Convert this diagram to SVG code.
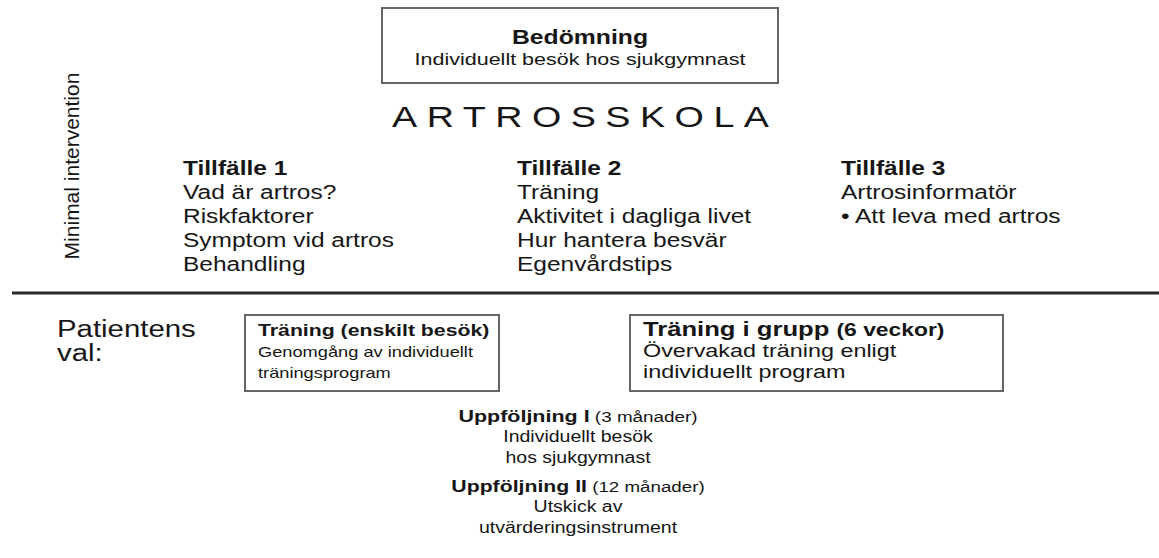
<svg xmlns="http://www.w3.org/2000/svg" width="1159" height="558" viewBox="0 0 1159 558">
<style>
text{font-family:"Liberation Sans",Arial,Helvetica,sans-serif;fill:#161616}
.b{font-weight:bold}
.c{text-anchor:middle}
.box{fill:#ffffff;stroke:#666666;stroke-width:2}
.col{font-size:19.6px}
.bx{font-size:14.6px}
.bx3{font-size:18.7px}
.up{font-size:15.6px}
</style>
<rect width="1159" height="558" fill="#ffffff"/>

<g id="bedomning">
  <rect class="box" x="382" y="8" width="396" height="75"/>
  <g transform="translate(580,0) scale(1.25,1)">
    <text class="b c" y="44" font-size="19.8">Bedömning</text>
    <text class="c" y="65" font-size="17.2">Individuellt besök hos sjukgymnast</text>
  </g>
</g>

<g id="artrosskola">
  <g transform="translate(392,127) scale(1.3,1)">
    <text font-size="29" letter-spacing="7.3">ARTROSSKOLA</text>
  </g>
</g>

<g id="minimal-intervention">
  <text class="c" transform="translate(79,166) rotate(-90)" font-size="21">Minimal intervention</text>
</g>

<g id="tillfalle-1">
  <g transform="translate(183,0) scale(1.25,1)">
    <text class="b col" y="175">Tillfälle 1</text>
    <text class="col" y="199">Vad är artros?</text>
    <text class="col" y="223">Riskfaktorer</text>
    <text class="col" y="247">Symptom vid artros</text>
    <text class="col" y="271">Behandling</text>
  </g>
</g>

<g id="tillfalle-2">
  <g transform="translate(517,0) scale(1.25,1)">
    <text class="b col" y="175">Tillfälle 2</text>
    <text class="col" y="199">Träning</text>
    <text class="col" y="223">Aktivitet i dagliga livet</text>
    <text class="col" y="247">Hur hantera besvär</text>
    <text class="col" y="271">Egenvårdstips</text>
  </g>
</g>

<g id="tillfalle-3">
  <g transform="translate(841,0) scale(1.25,1)">
    <text class="b col" y="175">Tillfälle 3</text>
    <text class="col" y="199">Artrosinformatör</text>
    <text class="col" y="223">• Att leva med artros</text>
  </g>
</g>

<g id="divider">
  <line x1="12" y1="293" x2="1159" y2="293" stroke="#2a2a2a" stroke-width="3"/>
</g>

<g id="patientens-val">
  <g transform="translate(57,0) scale(1.25,1)">
    <text y="337" font-size="23.5">Patientens</text>
    <text y="361" font-size="23.5">val:</text>
  </g>
</g>

<g id="traning-enskilt">
  <rect class="box" x="245" y="315" width="254" height="76"/>
  <g transform="translate(258,0) scale(1.25,1)">
    <text class="b" y="336" font-size="17">Träning (enskilt besök)</text>
    <text class="bx" y="357">Genomgång av individuellt</text>
    <text class="bx" y="378">träningsprogram</text>
  </g>
</g>

<g id="traning-grupp">
  <rect class="box" x="630" y="315" width="373" height="76"/>
  <g transform="translate(643,0) scale(1.25,1)">
    <text class="b" y="336" font-size="20.5">Träning i grupp <tspan font-size="18.3">(6 veckor)</tspan></text>
    <text class="bx3" y="357">Övervakad träning enligt</text>
    <text class="bx3" y="378">individuellt program</text>
  </g>
</g>

<g id="uppfoljning-1">
  <g transform="translate(578,0) scale(1.25,1)">
    <text class="c" y="422"><tspan class="b" font-size="17.2">Uppföljning I</tspan><tspan font-size="15.1"> (3 månader)</tspan></text>
    <text class="c up" y="442">Individuellt besök</text>
    <text class="c up" y="463">hos sjukgymnast</text>
  </g>
</g>

<g id="uppfoljning-2">
  <g transform="translate(578,0) scale(1.25,1)">
    <text class="c" y="492"><tspan class="b" font-size="17">Uppföljning II</tspan><tspan font-size="15"> (12 månader)</tspan></text>
    <text class="c up" y="512">Utskick av</text>
    <text class="c up" y="533">utvärderingsinstrument</text>
  </g>
</g>
</svg>
